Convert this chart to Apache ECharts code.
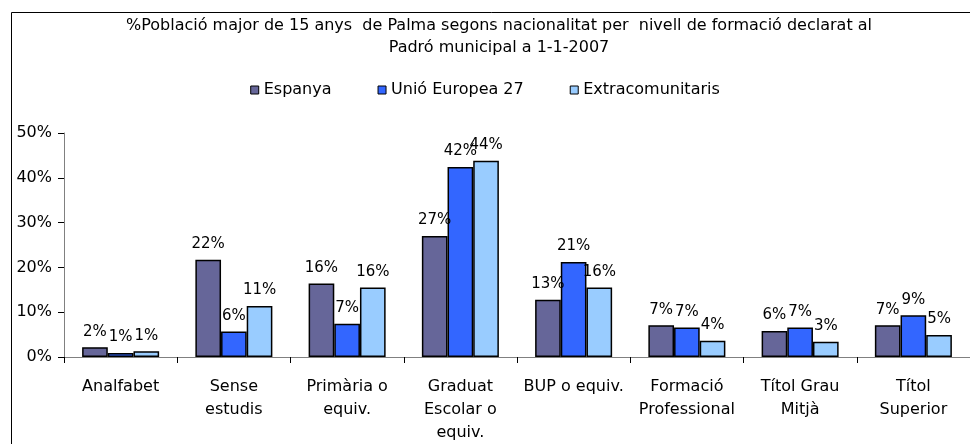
<!DOCTYPE html>
<html lang="ca">
<head>
<meta charset="UTF-8">
<title>Població per nivell de formació</title>
<script src="https://cdn.jsdelivr.net/npm/echarts@6/dist/echarts.min.js"></script>
<style>
  body { margin: 0; background: #fff; }
  #main { width: 970px; height: 444px; }
</style>
</head>
<body>
<div id="main"></div>
<script>
// categories and values (%)
var categories = ['Analfabet', 'Sense\nestudis', 'Primària o\nequiv.', 'Graduat\nEscolar o\nequiv.',
  'BUP o equiv.', 'Formació\nProfessional', 'Títol Grau\nMitjà', 'Títol\nSuperior'];
var seriesNames = ['Espanya', 'Unió Europea 27', 'Extracomunitaris'];
var espanya = [2.2, 21.7, 16.4, 27.0, 12.8, 7.1, 5.8, 7.1];
var unioEuropea = [0.9, 5.7, 7.4, 42.4, 21.2, 6.6, 6.6, 9.3];
var extracomunitaris = [1.3, 11.4, 15.5, 43.8, 15.5, 3.6, 3.4, 4.9];
var colors = ['#666699', '#3366ff', '#99ccff'];

var font = 'DejaVu Sans, sans-serif';
var myChart = echarts.init(document.getElementById('main'));

function makeSeries(name, data, color) {
    return {
        name: name,
        type: 'bar',
        data: data,
        barGap: '0%',
        barCategoryGap: '32%',
        itemStyle: {
            color: color,
            borderColor: '#000',
            borderWidth: 1.5
        },
        label: {
            show: true,
            position: 'top',
            distance: 8,
            color: '#000',
            fontFamily: font,
            fontSize: 15,
            formatter: function (p) { return Math.round(p.value) + '%'; }
        }
    };
}

var option = {
    animation: false,
    title: {
        text: '%Població major de 15 anys  de Palma segons nacionalitat per  nivell de formació declarat al\nPadró municipal a 1-1-2007',
        left: 494,
        top: 10,
        textAlign: 'center',
        textStyle: {
            fontFamily: font,
            fontSize: 16,
            fontWeight: 'normal',
            color: '#000',
            lineHeight: 22
        }
    },
    legend: {
        data: seriesNames,
        top: 77,
        left: 'center',
        itemWidth: 8,
        itemHeight: 8,
        itemGap: 46,
        icon: 'rect',
        itemStyle: { borderColor: '#000', borderWidth: 1 },
        textStyle: { fontFamily: font, fontSize: 16, color: '#000' }
    },
    graphic: [{
        type: 'rect',
        silent: true,
        z: -1,
        shape: { x: 11.5, y: 12.5, width: 1000, height: 500 },
        style: { fill: 'none', stroke: '#000', lineWidth: 1 }
    }],
    grid: {
        left: 64,
        top: 133,
        bottom: 85,
        width: 920
    },
    xAxis: {
        type: 'category',
        data: categories,
        axisLine: { lineStyle: { color: '#808080', width: 1 } },
        axisTick: { show: true, length: 6, lineStyle: { color: '#000' } },
        axisLabel: {
            interval: 0,
            margin: 18,
            fontFamily: font,
            fontSize: 16,
            color: '#000',
            lineHeight: 23
        }
    },
    yAxis: {
        type: 'value',
        min: 0,
        max: 50,
        interval: 10,
        splitLine: { show: false },
        axisLine: { show: true, lineStyle: { color: '#808080', width: 1 } },
        axisTick: { show: true, length: 6, lineStyle: { color: '#000' } },
        axisLabel: {
            margin: 12,
            fontFamily: font,
            fontSize: 16,
            color: '#000',
            formatter: '{value}%'
        }
    },
    series: [
        makeSeries(seriesNames[0], espanya, colors[0]),
        makeSeries(seriesNames[1], unioEuropea, colors[1]),
        makeSeries(seriesNames[2], extracomunitaris, colors[2])
    ]
};

myChart.setOption(option);
</script>
</body>
</html>
